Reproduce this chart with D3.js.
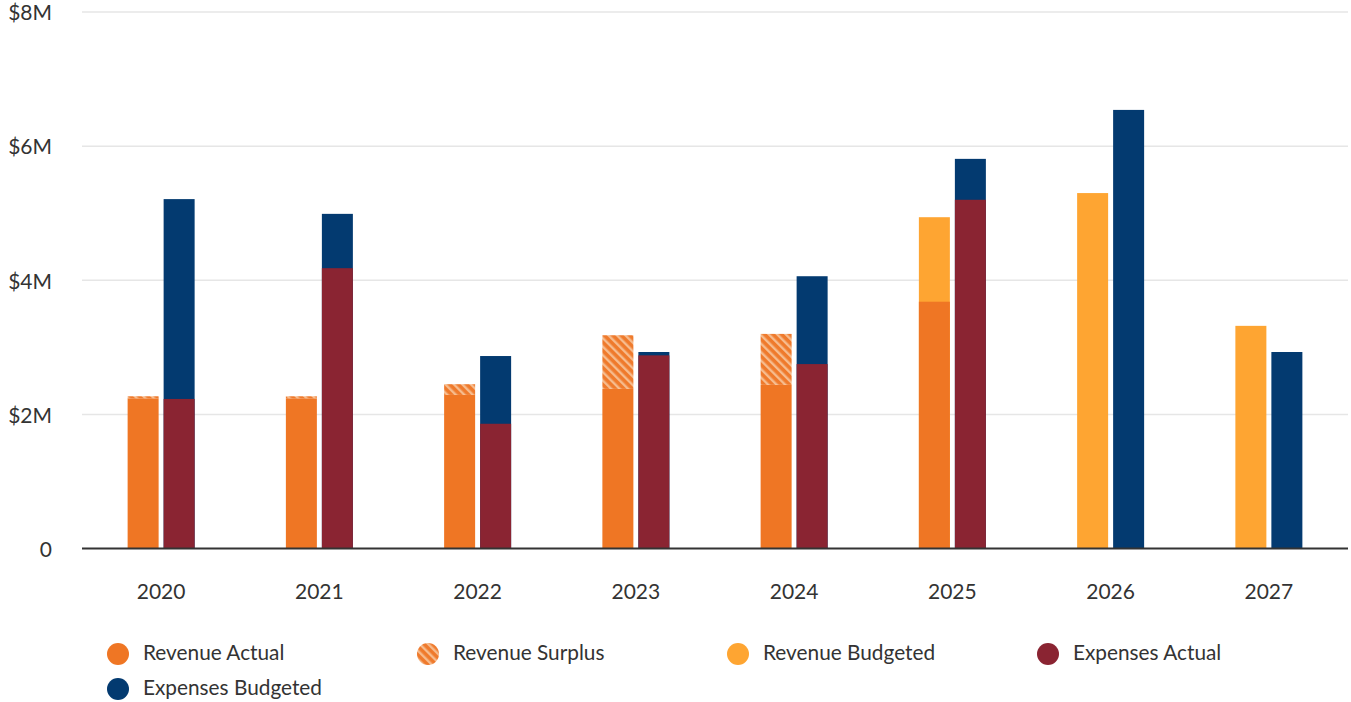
<!DOCTYPE html>
<html>
<head>
<meta charset="utf-8">
<script src="https://cdn.jsdelivr.net/npm/d3@7"></script>
<style>
  html, body { margin: 0; padding: 0; background: #fff; }
  svg { display: block; font-family: Lato, "Open Sans", sans-serif; }
</style>
</head>
<body>
<svg id="chart" width="1351" height="702"></svg>
<script>
// Fiscal years
const years = ["2020", "2021", "2022", "2023", "2024", "2025", "2026", "2027"];

// Revenue ($M): solid actual segment, surplus on top of it, budget (where shown)
const revenueActual   = [2.24, 2.24, 2.29, 2.38, 2.44, 3.68, null, null];
const revenueSurplus  = [0.03, 0.03, 0.16, 0.80, 0.76, null, null, null];
const revenueBudgeted = [null, null, null, null, null, 4.94, 5.30, 3.32];

// Expenses ($M)
const expensesActual   = [2.23, 4.18, 1.86, 2.88, 2.75, 5.20, null, null];
const expensesBudgeted = [5.21, 4.99, 2.87, 2.93, 4.06, 5.81, 6.54, 2.93];

// Axis ticks
const yTicks = [0, 2, 4, 6, 8];
const yTickLabels = ["0", "$2M", "$4M", "$6M", "$8M"];

const colors = {
  revActual: "#ef7624",
  revBudget: "#fea532",
  expActual: "#8a2432",
  expBudget: "#033a70",
  hatchBg: "#ef7a2c",
  hatchLine: "#f6bc8e"
};

const legendItems = [
  { label: "Revenue Actual", fill: colors.revActual },
  { label: "Revenue Surplus", fill: "url(#hatch)" },
  { label: "Revenue Budgeted", fill: colors.revBudget },
  { label: "Expenses Actual", fill: colors.expActual },
  { label: "Expenses Budgeted", fill: colors.expBudget }
];

const svg = d3.select("#chart");

// Diagonal hatch for the surplus segments
const defs = svg.append("defs");
const pat = defs.append("pattern")
  .attr("id", "hatch")
  .attr("patternUnits", "userSpaceOnUse")
  .attr("width", 6).attr("height", 6)
  .attr("patternTransform", "rotate(-45)");
pat.append("rect").attr("width", 6).attr("height", 6).attr("fill", colors.hatchBg);
pat.append("rect").attr("x", 0).attr("width", 2.4).attr("height", 6).attr("fill", colors.hatchLine);

const x0 = 82, x1 = 1348, yBase = 548.5, yTop = 12;

const x = d3.scaleBand().domain(years).range([x0, x1]).paddingInner(0).paddingOuter(0);
const y = d3.scaleLinear().domain([0, 8]).range([yBase, yTop]);

const barW = 31, gap = 5;
const revX = yr => x(yr) + x.bandwidth() / 2 - gap / 2 - barW;
const expX = yr => x(yr) + x.bandwidth() / 2 + gap / 2;

// Gridlines
svg.append("g").selectAll("line")
  .data(yTicks.filter(t => t > 0))
  .join("line")
  .attr("x1", x0).attr("x2", x1)
  .attr("y1", d => y(d)).attr("y2", d => y(d))
  .attr("stroke", "#e6e6e6").attr("stroke-width", 1.5);

// Y tick labels
svg.append("g").selectAll("text")
  .data(yTicks)
  .join("text")
  .attr("x", 52)
  .attr("y", d => y(d) + 3)
  .attr("text-anchor", "end")
  .attr("dominant-baseline", "middle")
  .attr("font-size", 21)
  .attr("fill", "#333")
  .text((d, i) => yTickLabels[i]);

const bars = svg.append("g");

// Revenue budget bars (behind actuals)
bars.selectAll(".rev-budget")
  .data(years.map((yr, i) => ({ yr, v: revenueBudgeted[i] })).filter(d => d.v != null))
  .join("rect")
  .attr("x", d => revX(d.yr)).attr("width", barW)
  .attr("y", d => y(d.v)).attr("height", d => y(0) - y(d.v))
  .attr("fill", colors.revBudget);

// Revenue actual
bars.selectAll(".rev-actual")
  .data(years.map((yr, i) => ({ yr, v: revenueActual[i] })).filter(d => d.v != null))
  .join("rect")
  .attr("x", d => revX(d.yr)).attr("width", barW)
  .attr("y", d => y(d.v)).attr("height", d => y(0) - y(d.v))
  .attr("fill", colors.revActual);

// Revenue surplus stacked on actual
bars.selectAll(".rev-surplus")
  .data(years.map((yr, i) => ({ yr, base: revenueActual[i], v: revenueSurplus[i] })).filter(d => d.v != null))
  .join("rect")
  .attr("x", d => revX(d.yr)).attr("width", barW)
  .attr("y", d => y(d.base + d.v)).attr("height", d => y(d.base) - y(d.base + d.v))
  .attr("fill", "url(#hatch)");

// Expenses budget (behind actuals)
bars.selectAll(".exp-budget")
  .data(years.map((yr, i) => ({ yr, v: expensesBudgeted[i] })).filter(d => d.v != null))
  .join("rect")
  .attr("x", d => expX(d.yr)).attr("width", barW)
  .attr("y", d => y(d.v)).attr("height", d => y(0) - y(d.v))
  .attr("fill", colors.expBudget);

// Expenses actual
bars.selectAll(".exp-actual")
  .data(years.map((yr, i) => ({ yr, v: expensesActual[i] })).filter(d => d.v != null))
  .join("rect")
  .attr("x", d => expX(d.yr)).attr("width", barW)
  .attr("y", d => y(d.v)).attr("height", d => y(0) - y(d.v))
  .attr("fill", colors.expActual);

// Baseline
svg.append("line")
  .attr("x1", x0).attr("x2", x1)
  .attr("y1", yBase).attr("y2", yBase)
  .attr("stroke", "#333").attr("stroke-width", 2);

// X axis labels
svg.append("g").selectAll("text")
  .data(years)
  .join("text")
  .attr("x", d => x(d) + x.bandwidth() / 2)
  .attr("y", 599)
  .attr("text-anchor", "middle")
  .attr("font-size", 21)
  .attr("fill", "#333")
  .text(d => d);

// Legend
const legend = svg.append("g");
const leg = legend.selectAll("g")
  .data(legendItems)
  .join("g")
  .attr("transform", (d, i) => `translate(${118 + (i % 4) * 310},${i < 4 ? 654 : 689})`);
leg.append("circle").attr("r", 11).attr("fill", d => d.fill);
leg.append("text")
  .attr("x", 25)
  .attr("dominant-baseline", "middle")
  .attr("y", 1)
  .attr("font-size", 20.8)
  .attr("fill", "#333")
  .text(d => d.label);
</script>
</body>
</html>
